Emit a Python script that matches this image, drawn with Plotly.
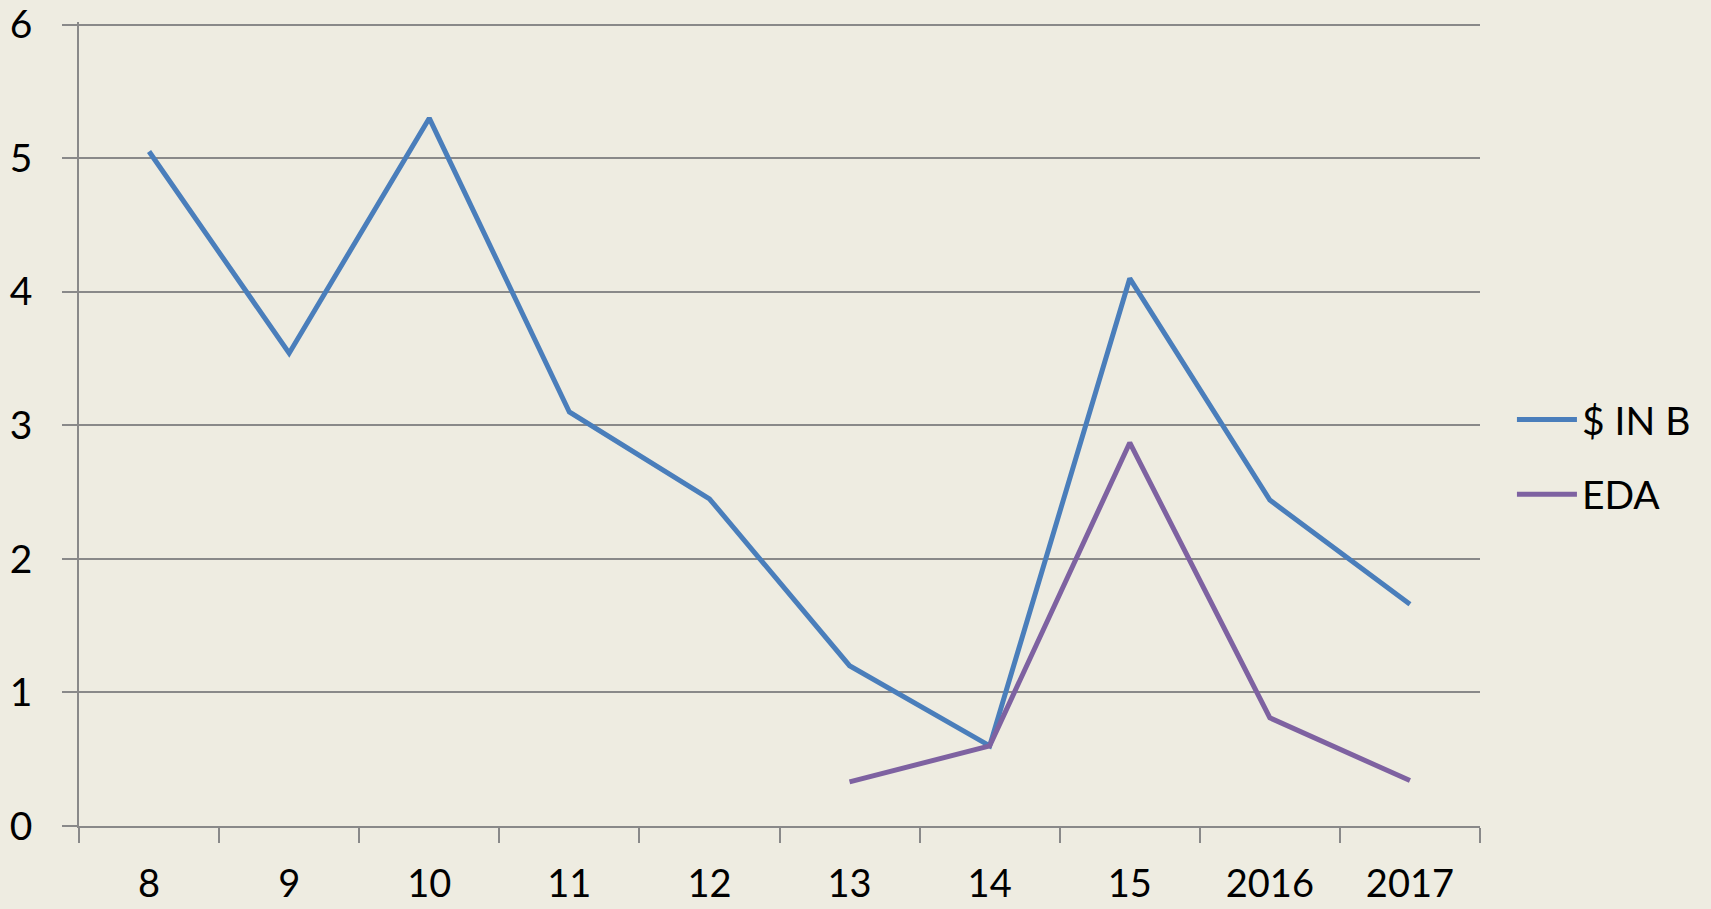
import plotly.graph_objects as go

categories = ["8", "9", "10", "11", "12", "13", "14", "15", "2016", "2017"]
usd_in_b = [5.05, 3.54, 5.30, 3.10, 2.45, 1.20, 0.60, 4.10, 2.44, 1.66]
eda = [None, None, None, None, None, 0.33, 0.60, 2.87, 0.81, 0.34]
y_ticks = [0, 1, 2, 3, 4, 5, 6]

BG = "#EEECE1"
GRID = "#898989"
FONT = "Lato, 'Open Sans', sans-serif"

fig = go.Figure()
fig.add_trace(go.Scatter(x=categories, y=usd_in_b, mode="lines", name="$ IN B",
                         line=dict(color="#4A7EBB", width=5), legendgroup="a"))
fig.add_trace(go.Scatter(x=categories, y=eda, mode="lines", name="EDA",
                         line=dict(color="#7E62A1", width=5), legendgroup="b"))

fig.update_layout(
    width=1711, height=909,
    paper_bgcolor=BG, plot_bgcolor=BG,
    margin=dict(l=79, r=231, t=22, b=83, autoexpand=False),
    font=dict(family=FONT, size=39, color="#000000"),
    showlegend=True,
    legend=dict(x=1.0228, xanchor="left", y=0.4587, yanchor="middle",
                bgcolor="rgba(0,0,0,0)", font=dict(size=39, family=FONT),
                tracegroupgap=21, itemwidth=60),
    xaxis=dict(type="category", categoryorder="array", categoryarray=categories,
               range=[-0.5, len(categories) - 0.5], automargin=False,
               showgrid=False, showline=True, linecolor=GRID, linewidth=1.5,
               ticks="outside", ticklen=15, tickcolor=GRID, tickwidth=1.5,
               tickson="boundaries", ticklabelstandoff=24, zeroline=False,
               ticklabeloverflow="allow", tickfont=dict(size=38)),
    yaxis=dict(range=[0, 6.02], tickvals=y_ticks, showgrid=True, gridcolor=GRID, gridwidth=1.5,
               showline=True, linecolor=GRID, linewidth=1.5, automargin=False,
               ticks="outside", ticklen=15, tickcolor=GRID, tickwidth=1.5,
               ticklabelstandoff=22, zeroline=False, ticklabeloverflow="allow"),
)

fig.write_html(
    "out.html",
    config={"displayModeBar": False},
    post_script="document.body.style.margin='0';document.body.style.overflow='hidden';"
                "document.body.style.background='#EEECE1';",
)
